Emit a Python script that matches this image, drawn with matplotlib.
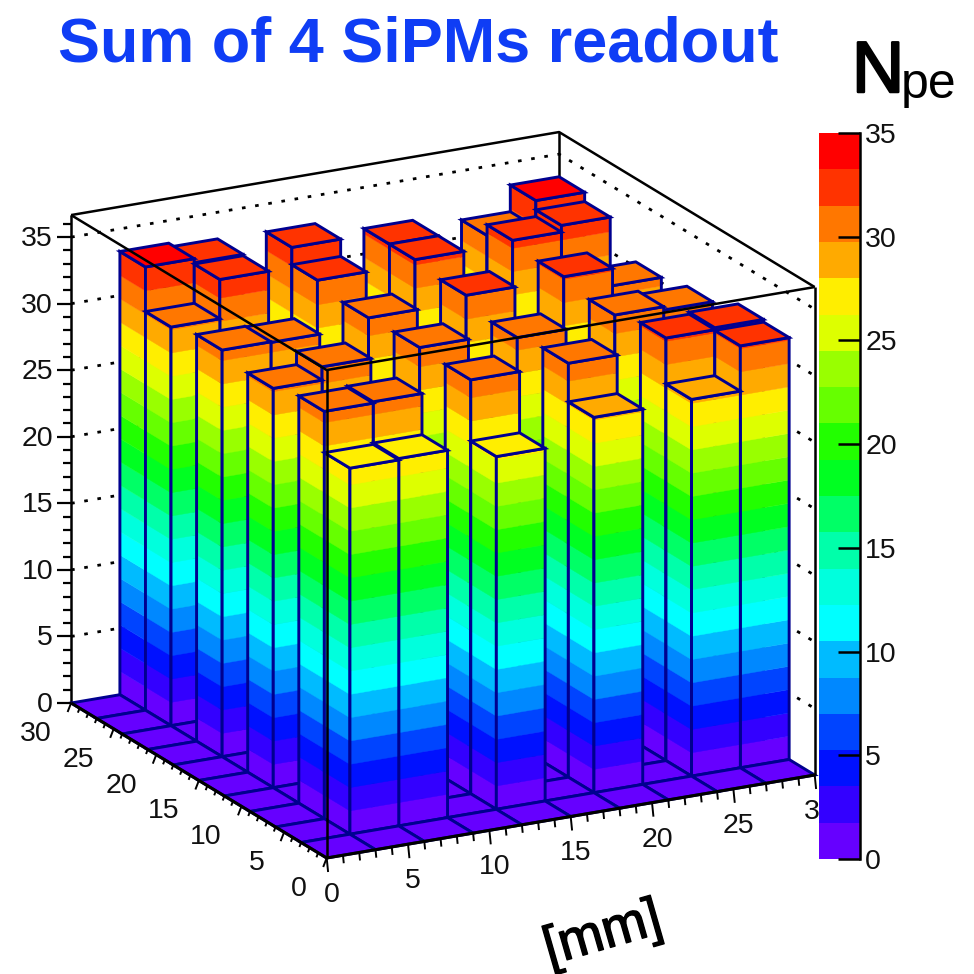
import numpy as np
import matplotlib
matplotlib.use("Agg")
import matplotlib.pyplot as plt
import matplotlib.patheffects as pe
from matplotlib.colors import ListedColormap, BoundaryNorm
from matplotlib.patches import Polygon

plt.rcParams['font.family'] = ['Liberation Sans', 'DejaVu Sans']

# ---- data -------------------------------------------------------------
N_BINS = 10
BIN_MM = 3.0
x_bins = [1, 2, 4, 6, 8, 9]
y_bins = [1, 2, 4, 6, 8, 9]
row_y1 = [27.5, 27.6, 26.5, 28.2, 28.3, 31.7]
row_y2 = [30.6, 30.7, 31.1, 31.1, 31.75, 31.9]
row_y4 = [30.0, 31.0, 31.2, 30.7, 31.15, 30.9]
row_y6 = [30.55, 30.5, 31.1, 31.55, 31.7, 30.4]
row_y8 = [29.95, 32.9, 31.6, 31.9, 32.1, 32.6]
row_y9 = [33.3, 33.0, 32.9, 31.9, 31.3, 33.3]
rows = [row_y1, row_y2, row_y4, row_y6, row_y8, row_y9]

z_max_axis = 36.66
z_ticks = [0, 5, 10, 15, 20, 25, 30, 35]
xy_ticks = [0, 5, 10, 15, 20, 25, 30]
level_colors = ['#6600FF', '#3300FF', '#0011FF', '#0044FF', '#0088FF',
                '#00BBFF', '#00FFFF', '#00FFDD', '#00FFAA', '#00FF66',
                '#00FF22', '#22FF00', '#66FF00', '#99FF00', '#DDFF00',
                '#FFEE00', '#FFAA00', '#FF7700', '#FF3300', '#FF0000']
levels = np.linspace(0, 35, len(level_colors) + 1)

# ---- projection: parallel view of the LEGO box onto the picture --------
ORIGIN = np.array([326.7, 858.0])
UX = np.array([488.0, -83.0]) / 30.0
UY = np.array([-255.6, -155.0]) / 30.0
UZ = 13.31


def P(x, y, z=0.0):
    p = ORIGIN + x * UX + y * UY
    return (p[0], p[1] - z * UZ)


heights = {}
for j, row in zip(y_bins, rows):
    for i, h in zip(x_bins, row):
        heights[(i, j)] = h

NAVY = '#00008F'
BLACK = '#000000'
LW_BAR = 2.1
LW_BOX = 1.8
TICK_FS = 20.5

fig = plt.figure(figsize=(9.74, 9.74), dpi=100)
ax = fig.add_axes([0, 0, 1, 1])
ax.set_xlim(0, 974)
ax.set_ylim(974, 0)
ax.axis('off')


def line(pts, **kw):
    xs, ys = zip(*pts)
    kw.setdefault('color', BLACK)
    kw.setdefault('lw', LW_BOX)
    kw.setdefault('solid_capstyle', 'butt')
    kw.setdefault('zorder', 2)
    ax.plot(xs, ys, **kw)


def poly(pts, **kw):
    ax.add_patch(Polygon(pts, closed=True, zorder=2, **kw))


# back box lines and dotted grid
for z in z_ticks[1:]:
    line([P(0, 30, z), P(30, 30, z), P(30, 0, z)], lw=2.0,
         linestyle=(0, (1.3, 3.5)), dash_capstyle='butt')
line([P(30, 30, 0), P(30, 30, z_max_axis)])
line([P(0, 30, z_max_axis), P(30, 30, z_max_axis), P(30, 0, z_max_axis)])
line([P(0, 30, 0), P(0, 30, z_max_axis)])


def band_of(z):
    k = np.searchsorted(levels, z, side='right') - 1
    return int(np.clip(k, 0, len(level_colors) - 1))


def face(a0, b0, a1, b1, z):
    """vertical face from (a0,b0) to (a1,b1), split in colour levels"""
    for k, col in enumerate(level_colors):
        lo, hi = levels[k], min(levels[k + 1], z)
        if lo >= z:
            break
        poly([P(a0, b0, lo), P(a1, b1, lo), P(a1, b1, hi), P(a0, b0, hi)],
             facecolor=col, edgecolor=col, lw=0.3)
    poly([P(a0, b0, 0), P(a1, b1, 0), P(a1, b1, z), P(a0, b0, z)],
         fill=False, edgecolor=NAVY, lw=LW_BAR)


# cells back to front
for j in range(N_BINS - 1, -1, -1):
    for i in range(N_BINS - 1, -1, -1):
        x0, x1 = i * BIN_MM, (i + 1) * BIN_MM
        y0, y1 = j * BIN_MM, (j + 1) * BIN_MM
        z = heights.get((i, j), 0.0)
        if z > 0:
            face(x0, y1, x0, y0, z)
            face(x0, y0, x1, y0, z)
        poly([P(x0, y0, z), P(x1, y0, z), P(x1, y1, z), P(x0, y1, z)],
             facecolor=level_colors[band_of(z)], edgecolor=NAVY, lw=LW_BAR)

# front box lines over the bars
line([P(0, 0, 0), P(0, 0, z_max_axis)], lw=LW_BOX)
line([P(30, 0, 0), P(30, 0, z_max_axis)], lw=LW_BOX)
line([P(0, 30, z_max_axis), P(0, 0, z_max_axis), P(30, 0, z_max_axis)], lw=LW_BOX)
line([P(0, 30, 0), P(0, 0, 0), P(30, 0, 0)], lw=2.2)

# z axis
for v in range(0, 37):
    major = v % 5 == 0
    xa, ya = P(0, 30, v)
    line([(xa - (14 if major else 8), ya), (xa, ya)], lw=1.6)
for v in z_ticks:
    xa, ya = P(0, 30, v)
    ax.text(xa - 18, ya + 2, str(v), ha='right', va='center', fontsize=TICK_FS, color='#111111')

# x axis
for v in range(0, 31):
    major = v % 5 == 0
    xa, ya = P(v, 0, 0)
    l = 14 if major else 8
    line([(xa, ya), (xa + l * 0.1, ya + l)], lw=1.4)
for v in xy_ticks:
    xa, ya = P(v, 0, 0)
    ax.text(xa + 5, ya + 37, str(v), ha='center', va='center', fontsize=TICK_FS, color='#111111')

# y axis
for v in range(0, 31):
    major = v % 5 == 0
    xa, ya = P(0, v, 0)
    l = 1.0 if major else 0.5
    line([(xa, ya), (xa - 3.5 * l, ya + 9 * l)], lw=1.4)
for v in xy_ticks:
    xa, ya = P(0, v, 0)
    ax.text(xa - 19.5, ya + 31, str(v), ha='right', va='center', fontsize=TICK_FS, color='#111111')

# titles
ax.text(418, 45, 'Sum of 4 SiPMs readout', ha='center', va='center',
        fontsize=45.3, fontweight='bold', color='#0F3DF5')
ax.text(852, 92, 'N', ha='left', va='baseline', fontsize=52, color='black',
        path_effects=[pe.withStroke(linewidth=1.8, foreground='black')])
ax.text(901, 98, 'pe', ha='left', va='baseline', fontsize=36, color='black')
ax.text(603, 935, '[mm]', ha='center', va='center', fontsize=39, rotation=16,
        rotation_mode='anchor', color='black',
        path_effects=[pe.withStroke(linewidth=1.0, foreground='black')])

# colour bar
cax = fig.add_axes([819 / 974, 1 - 859 / 974, (860.5 - 819) / 974, (859 - 133) / 974], zorder=5)
cmap = ListedColormap(level_colors)
norm = BoundaryNorm(levels, cmap.N)
cax.pcolormesh([0, 1], levels, np.array(levels[:-1])[:, None] + 0.1, cmap=cmap, norm=norm)
cax.set_ylim(0, 35)
cax.set_xticks([])
cax.yaxis.tick_right()
cax.set_yticks(z_ticks)
cax.tick_params(axis='y', direction='in', length=15.5, width=1.8, pad=3.5, labelsize=TICK_FS,
                labelcolor='#111111')
for s in ['top', 'left', 'bottom']:
    cax.spines[s].set_visible(False)
cax.spines['right'].set_linewidth(1.8)
cax.patch.set_alpha(0)

fig.savefig('out.png', dpi=100)
